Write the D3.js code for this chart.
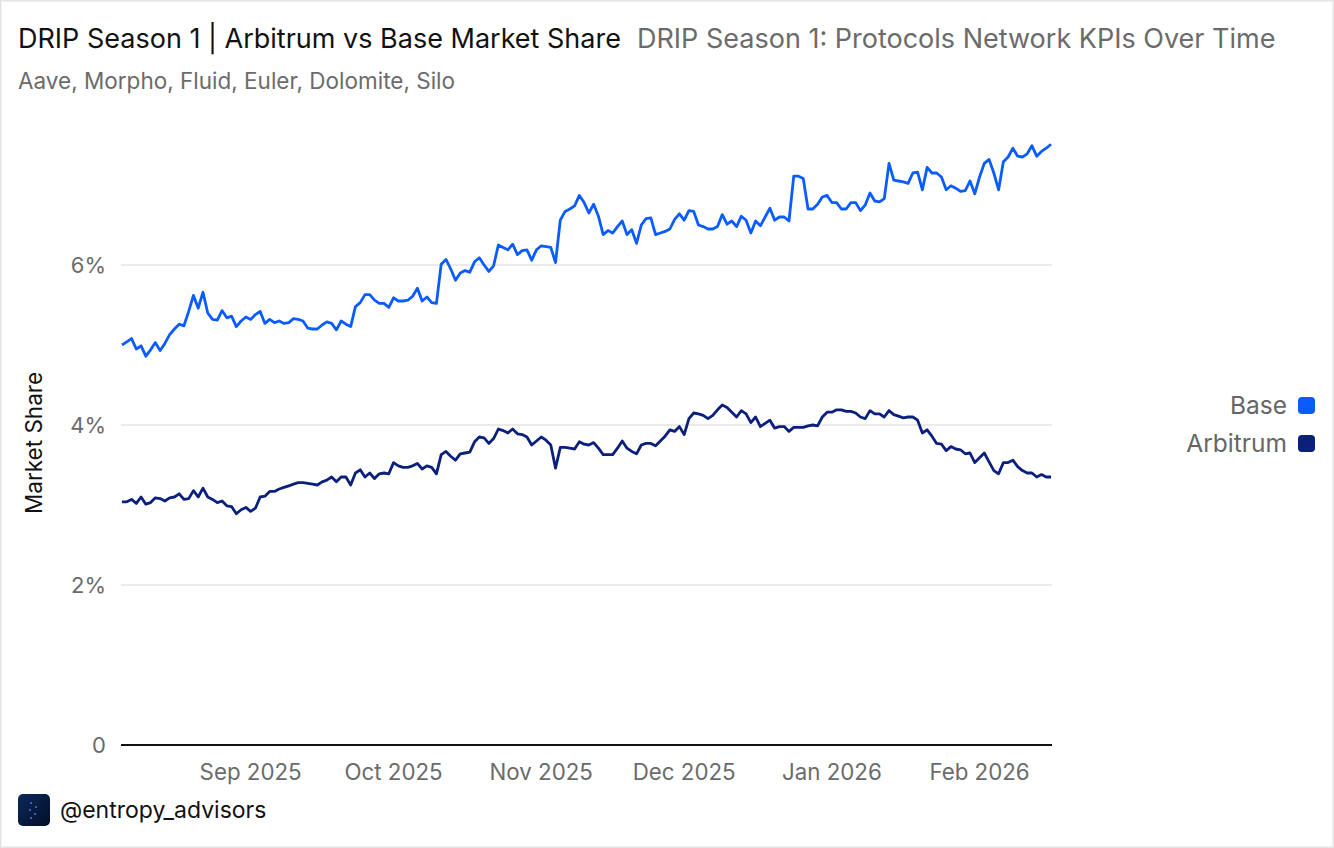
<!DOCTYPE html>
<html>
<head>
<meta charset="utf-8">
<script src="https://cdn.jsdelivr.net/npm/d3@7"></script>
<style>
  body { margin: 0; background: #ffffff; }
  svg text { font-family: Inter, "Noto Sans", sans-serif; }
</style>
</head>
<body>
<svg id="chart"></svg>
<script>

// daily market share (%) from 2025-08-05 to 2026-02-16
var startDay = "2025-08-05";
var endDay = "2026-02-16";

var baseShare = [
  5.00,5.04,5.08,4.95,4.99,4.86,4.94,5.03,4.93,5.02,5.13,5.20,5.26,5.24,5.42,5.62,5.46,5.66,5.40,5.32,5.31,5.43,5.34,5.36,
  5.23,5.30,5.35,5.32,5.38,5.42,5.27,5.32,5.28,5.30,5.27,5.28,5.33,5.32,5.30,5.21,5.20,5.20,5.25,5.29,5.27,5.19,5.30,5.26,5.23,
  5.48,5.53,5.63,5.63,5.56,5.52,5.52,5.47,5.59,5.55,5.55,5.56,5.61,5.71,5.55,5.60,5.53,5.52,6.01,6.07,5.95,5.81,5.90,5.93,5.91,
  6.04,6.09,6.00,5.92,5.99,6.25,6.22,6.19,6.26,6.13,6.18,6.19,6.06,6.19,6.24,6.23,6.22,6.03,6.56,6.67,6.70,6.74,6.87,6.78,
  6.65,6.76,6.61,6.38,6.43,6.40,6.48,6.55,6.38,6.44,6.27,6.50,6.58,6.59,6.38,6.40,6.42,6.45,6.57,6.64,6.56,6.68,6.67,6.50,
  6.48,6.45,6.45,6.48,6.63,6.51,6.55,6.48,6.61,6.56,6.40,6.55,6.49,6.60,6.71,6.56,6.60,6.60,6.55,7.11,7.11,7.08,6.70,6.70,6.76,
  6.85,6.87,6.78,6.78,6.70,6.70,6.78,6.78,6.68,6.75,6.90,6.80,6.79,6.83,7.27,7.06,7.05,7.04,7.02,7.15,7.16,6.94,7.22,7.15,7.15,
  7.10,6.94,6.99,6.96,6.92,6.93,7.05,6.89,7.10,7.27,7.32,7.15,6.94,7.29,7.35,7.46,7.36,7.35,7.39,7.49,7.36,7.42,7.46,7.51
];

var arbitrumShare = [
  3.04,3.04,3.07,3.02,3.10,3.01,3.03,3.09,3.08,3.05,3.09,3.10,3.14,3.07,3.08,3.18,3.10,3.21,3.10,3.07,3.03,3.05,2.99,2.98,
  2.89,2.94,2.97,2.92,2.96,3.10,3.11,3.17,3.17,3.20,3.22,3.24,3.26,3.28,3.28,3.27,3.26,3.25,3.29,3.31,3.35,3.29,3.35,3.35,3.25,
  3.40,3.44,3.35,3.40,3.33,3.39,3.40,3.39,3.53,3.49,3.47,3.47,3.49,3.52,3.45,3.49,3.47,3.39,3.63,3.67,3.61,3.56,3.64,3.65,3.66,
  3.79,3.85,3.84,3.77,3.83,3.95,3.93,3.90,3.95,3.89,3.88,3.85,3.75,3.80,3.85,3.81,3.75,3.46,3.72,3.72,3.71,3.70,3.79,3.76,
  3.75,3.78,3.71,3.63,3.63,3.63,3.71,3.80,3.71,3.67,3.64,3.75,3.77,3.77,3.74,3.80,3.86,3.94,3.92,3.98,3.88,4.08,4.15,4.14,
  4.12,4.08,4.12,4.19,4.25,4.22,4.16,4.10,4.18,4.14,4.03,4.10,3.98,4.02,4.06,3.96,3.98,3.98,3.92,3.97,3.97,3.97,3.99,4.00,3.99,
  4.10,4.16,4.16,4.19,4.19,4.17,4.17,4.15,4.10,4.08,4.18,4.14,4.14,4.10,4.18,4.13,4.11,4.09,4.10,4.10,4.06,3.90,3.94,3.86,3.77,
  3.76,3.68,3.73,3.70,3.69,3.64,3.65,3.53,3.59,3.65,3.54,3.43,3.39,3.53,3.53,3.56,3.48,3.43,3.40,3.40,3.35,3.38,3.35,3.35
];

var seriesNames = ["Base", "Arbitrum"];
var seriesColors = ["#0a5cff", "#0b1f7c"];
var yTicks = [0, 2, 4, 6];
var monthTicks = ["2025-09-01","2025-10-01","2025-11-01","2025-12-01","2026-01-01","2026-02-01"];

var parseDay = d3.timeParse("%Y-%m-%d");
var days = d3.timeDay.range(parseDay(startDay), d3.timeDay.offset(parseDay(endDay), 1));

var width = 1334;
var height = 848;

var svg = d3.select("#chart")
            .attr("width", width)
            .attr("height", height);

// card frame
svg.append("rect")
   .attr("x", 0.5).attr("y", 0.5)
   .attr("width", width - 1).attr("height", height - 1)
   .attr("fill", "#ffffff")
   .attr("stroke", "#e4e4e4")
   .attr("stroke-width", 2);

var x = d3.scaleTime()
          .domain([days[0], days[days.length - 1]])
          .range([122, 1051]);

var y = d3.scaleLinear()
          .domain([0, 8])
          .range([745, 105]);

// titles
svg.append("text")
   .attr("x", 18).attr("y", 48)
   .attr("font-size", "27px")
   .attr("fill", "#111111")
   .text("DRIP Season 1 | Arbitrum vs Base Market Share");

svg.append("text")
   .attr("x", 637).attr("y", 48)
   .attr("font-size", "27px")
   .attr("fill", "#6b6b6b")
   .text("DRIP Season 1: Protocols Network KPIs Over Time");

svg.append("text")
   .attr("x", 18).attr("y", 89)
   .attr("font-size", "22.5px")
   .attr("fill", "#6b6b6b")
   .text("Aave, Morpho, Fluid, Euler, Dolomite, Silo");

// grid + y ticks
svg.selectAll(".grid")
   .data(yTicks.filter(function(d) { return d > 0; }))
   .enter()
   .append("line")
   .attr("x1", 121).attr("x2", 1052)
   .attr("y1", function(d) { return y(d); })
   .attr("y2", function(d) { return y(d); })
   .attr("stroke", "#ebebeb")
   .attr("stroke-width", 2);

svg.selectAll(".ytick")
   .data(yTicks)
   .enter()
   .append("text")
   .attr("x", 106)
   .attr("y", function(d) { return y(d) + 8; })
   .attr("text-anchor", "end")
   .attr("font-size", "22px")
   .attr("fill", "#6b6b6b")
   .text(function(d) { return d === 0 ? "0" : d + "%"; });

svg.append("text")
   .attr("transform", "translate(42,443) rotate(-90)")
   .attr("text-anchor", "middle")
   .attr("font-size", "22.5px")
   .attr("fill", "#111111")
   .text("Market Share");

// x axis
svg.append("line")
   .attr("x1", 121).attr("x2", 1052)
   .attr("y1", y(0)).attr("y2", y(0))
   .attr("stroke", "#111111")
   .attr("stroke-width", 2);

svg.selectAll(".xtick")
   .data(monthTicks)
   .enter()
   .append("text")
   .attr("x", function(d) { return x(parseDay(d)); })
   .attr("y", 780)
   .attr("text-anchor", "middle")
   .attr("font-size", "22.3px")
   .attr("fill", "#6b6b6b")
   .text(function(d) { return d3.timeFormat("%b %Y")(parseDay(d)); });

// lines
var line = d3.line()
             .x(function(d, i) { return x(days[i]); })
             .y(function(d) { return y(d); });

[arbitrumShare, baseShare].forEach(function(vals, k) {
  var color = k === 0 ? seriesColors[1] : seriesColors[0];
  svg.append("path")
     .datum(vals)
     .attr("d", line)
     .attr("fill", "none")
     .attr("stroke", color)
     .attr("stroke-width", 2.8)
     .attr("stroke-linejoin", "round");
});

// legend
var legend = svg.selectAll(".legend")
                .data(seriesNames)
                .enter()
                .append("g")
                .attr("transform", function(d, i) { return "translate(0," + (405 + i * 38) + ")"; });

legend.append("text")
      .attr("x", 1287)
      .attr("y", 9)
      .attr("text-anchor", "end")
      .attr("font-size", "24.5px")
      .attr("fill", "#666666")
      .text(function(d) { return d; });

legend.append("rect")
      .attr("x", 1298).attr("y", -8)
      .attr("width", 17).attr("height", 17)
      .attr("rx", 4)
      .attr("fill", function(d, i) { return seriesColors[i]; });

// footer
var grad = svg.append("defs").append("linearGradient")
              .attr("id", "logoGrad")
              .attr("x1", 0).attr("y1", 0).attr("x2", 1).attr("y2", 1);
grad.append("stop").attr("offset", "0%").attr("stop-color", "#0c2a5c");
grad.append("stop").attr("offset", "100%").attr("stop-color", "#020d24");

svg.append("rect")
   .attr("x", 18).attr("y", 794)
   .attr("width", 32).attr("height", 32)
   .attr("rx", 5)
   .attr("fill", "url(#logoGrad)");

var dots = [[31,803],[36,807],[30,810],[35,814],[31,818]];
svg.selectAll(".dot")
   .data(dots)
   .enter()
   .append("circle")
   .attr("cx", function(d) { return d[0]; })
   .attr("cy", function(d) { return d[1]; })
   .attr("r", 1)
   .attr("fill", "#3d7bff");

svg.append("text")
   .attr("x", 60).attr("y", 818)
   .attr("font-size", "23px")
   .attr("fill", "#111111")
   .text("@entropy_advisors");

</script>
</body>
</html>
